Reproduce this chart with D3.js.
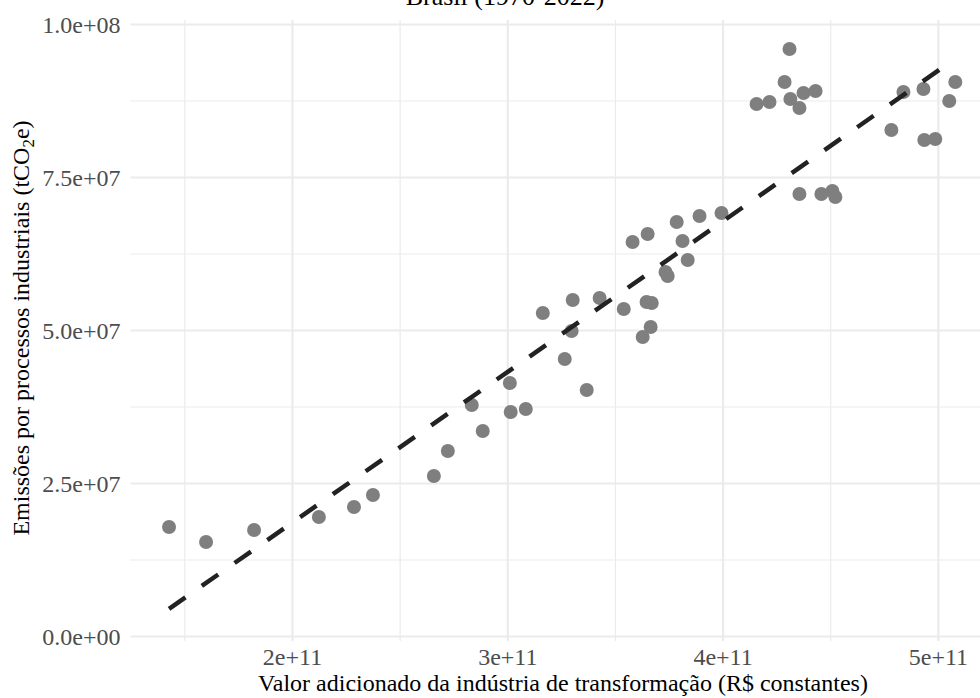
<!DOCTYPE html>
<html lang="pt">
<head>
<meta charset="UTF-8" />
<title>Brasil (1970-2022)</title>
<script src="https://d3js.org/d3.v7.min.js"></script>
<style>
  body { margin: 0; background: #fff; }
  svg { display: block; font-family: "Liberation Serif", "DejaVu Serif", serif; }
  .grid line { stroke: #ebebeb; }
  .grid path { display: none; }
  .tick-lbl text { fill: #4d4d4d; font-size: 24px; font-family: "Liberation Serif", serif; }
  .tick-lbl path, .tick-lbl line { display: none; }
</style>
</head>
<body>
<div id="chart"></div>
<script>
// valor adicionado da indústria de transformação (R$ bilhões constantes)
const valorAdicionado = [
  142.9, 160.1, 182.4, 212.5, 228.8, 237.6, 265.9, 272.4, 283.5, 288.6,
  301.2, 301.6, 308.6, 316.5, 326.7, 329.9, 330.4, 336.9, 342.9, 354.1,
  358.2, 362.9, 364.7, 365.2, 366.6, 367.1, 373.5, 374.5, 378.7, 381.4,
  383.8, 389.3, 399.5, 415.8, 421.8, 428.8, 431.1, 431.5, 435.7, 437.6,
  443.2, 435.7, 445.9, 451.0, 452.4, 478.4, 484.0, 493.3, 493.7, 498.8,
  505.3, 508.1
];
// emissões por processos industriais (milhões tCO2e)
const emissoes = [
  17.81, 15.36, 17.32, 19.44, 21.08, 23.04, 26.14, 30.23, 37.75, 33.50,
  41.34, 36.60, 37.09, 52.78, 45.26, 49.84, 54.90, 40.20, 55.23, 53.43,
  64.38, 48.86, 54.58, 65.69, 50.49, 54.41, 59.48, 58.82, 67.65, 64.54,
  61.44, 68.63, 69.12, 86.93, 87.25, 90.52, 95.92, 87.75, 86.27, 88.73,
  89.05, 72.22, 72.22, 72.71, 71.73, 82.68, 88.89, 89.38, 81.05, 81.21,
  87.42, 90.52
];
const xTicks = [2e11, 3e11, 4e11, 5e11];
const xMinor = [1.5e11, 2.5e11, 3.5e11, 4.5e11];
const yTicks = [0, 2.5e7, 5e7, 7.5e7, 1e8];
const yMinor = [1.25e7, 3.75e7, 6.25e7, 8.75e7];

const W = 980, H = 698;
const panel = { left: 130.5, right: 996, top: 20, bottom: 641 };

const data = valorAdicionado.map((v, i) => ({ x: v * 1e9, y: emissoes[i] * 1e6 }));

const x = d3.scaleLinear().domain([1.25e11, 5.27e11]).range([panel.left, panel.right]);
const y = d3.scaleLinear().domain([0, 1e8]).range([636, 24]);

const svg = d3.select("#chart").append("svg")
  .attr("width", W).attr("height", H);

// grid
const gh = panel.bottom - panel.top, gw = panel.right - panel.left;
svg.append("g").attr("class", "grid")
  .attr("transform", `translate(0,${panel.bottom})`)
  .call(d3.axisBottom(x).tickValues(xMinor).tickSize(-gh).tickFormat(""))
  .selectAll("line").attr("stroke-width", 1.2);
svg.append("g").attr("class", "grid")
  .attr("transform", `translate(${panel.left},0)`)
  .call(d3.axisLeft(y).tickValues(yMinor).tickSize(-gw).tickFormat(""))
  .selectAll("line").attr("stroke-width", 1.2);
svg.append("g").attr("class", "grid")
  .attr("transform", `translate(0,${panel.bottom})`)
  .call(d3.axisBottom(x).tickValues(xTicks).tickSize(-gh).tickFormat(""))
  .selectAll("line").attr("stroke-width", 2.2);
svg.append("g").attr("class", "grid")
  .attr("transform", `translate(${panel.left},0)`)
  .call(d3.axisLeft(y).tickValues(yTicks).tickSize(-gw).tickFormat(""))
  .selectAll("line").attr("stroke-width", 2.2);

// tick labels
const fmtY = v => {
  const [m, e] = v.toExponential(1).split("e");
  const s = e[0] === "-" ? "-" : "+";
  return m + "e" + s + String(Math.abs(+e)).padStart(2, "0");
};
svg.append("g").attr("class", "tick-lbl")
  .attr("transform", `translate(${panel.left},0)`)
  .call(d3.axisLeft(y).tickValues(yTicks).tickSize(0).tickPadding(10).tickFormat(fmtY))
  .selectAll("text").attr("dy", "0.34em");
svg.append("g").attr("class", "tick-lbl")
  .attr("transform", `translate(0,${panel.bottom})`)
  .call(d3.axisBottom(x).tickValues(xTicks).tickSize(0).tickPadding(7)
    .tickFormat(v => v.toExponential(0)));

// points
svg.append("g").selectAll("circle")
  .data(data)
  .enter().append("circle")
  .attr("cx", d => x(d.x))
  .attr("cy", d => y(d.y))
  .attr("r", 7)
  .attr("fill", "#7f7f7f");

// linear fit
const mx = d3.mean(data, d => d.x), my = d3.mean(data, d => d.y);
const b = d3.sum(data, d => (d.x - mx) * (d.y - my)) / d3.sum(data, d => (d.x - mx) ** 2);
const a = my - b * mx;
const [x0, x1] = d3.extent(data, d => d.x);
svg.append("line")
  .attr("x1", x(x0)).attr("y1", y(a + b * x0))
  .attr("x2", x(x1)).attr("y2", y(a + b * x1))
  .attr("stroke", "#222")
  .attr("stroke-width", 4.5)
  .attr("stroke-dasharray", "20,20");

// titles
svg.append("text")
  .attr("x", 505).attr("y", 5)
  .attr("text-anchor", "middle")
  .style("font-size", "26px")
  .text("Brasil (1970-2022)");

svg.append("text")
  .attr("x", 563).attr("y", 691)
  .attr("text-anchor", "middle")
  .style("font-size", "24px")
  .text("Valor adicionado da indústria de transformação (R$ constantes)");

const yt = svg.append("text")
  .attr("transform", "translate(29,328) rotate(-90)")
  .attr("text-anchor", "middle")
  .style("font-size", "24px");
yt.append("tspan").text("Emissões por processos industriais (tCO");
yt.append("tspan").attr("dy", 5).style("font-size", "17px").text("2");
yt.append("tspan").attr("dy", -5).text("e)");
</script>
</body>
</html>
